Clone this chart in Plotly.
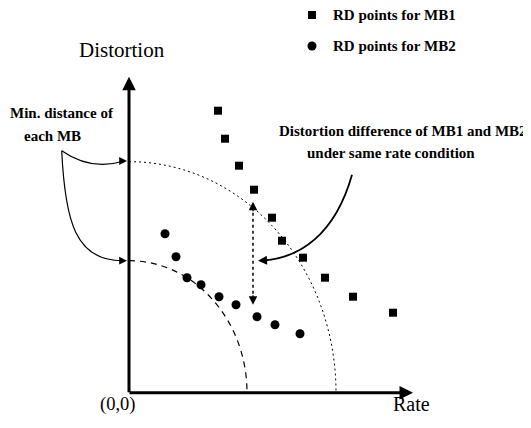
import plotly.graph_objects as go

# ---- data (rate / distortion units, origin at (0,0)) ----
mb1_rate = [8.9, 9.6, 11.0, 12.5, 14.3, 15.3, 17.4, 19.6, 22.4, 26.4]
mb1_dist = [28.2, 25.4, 22.7, 20.3, 17.5, 15.2, 13.5, 11.5, 9.6, 8.0]
mb2_rate = [3.6, 4.7, 5.8, 7.2, 9.0, 10.7, 12.8, 14.6, 17.1]
mb2_dist = [15.9, 13.6, 11.5, 10.8, 9.6, 8.8, 7.6, 6.8, 5.9]

series_names = ["RD points for MB1", "RD points for MB2"]

outer_rx, outer_ry = 20.7, 23.1   # min-distance contour of MB1
inner_rx, inner_ry = 11.8, 13.2   # min-distance contour of MB2
same_rate = 12.4                  # rate at which the distortion difference is shown

SERIF = "Liberation Serif"
K = 0.5523

def quarter_ellipse(rx, ry):
    return (f"M 0,{ry} C {K*rx},{ry} {rx},{K*ry} {rx},0")

fig = go.Figure()
fig.add_trace(go.Scatter(x=mb1_rate, y=mb1_dist, mode="markers", name=series_names[0],
                         showlegend=False,
                         marker=dict(symbol="square", size=8, color="black")))
fig.add_trace(go.Scatter(x=mb2_rate, y=mb2_dist, mode="markers", name=series_names[1],
                         showlegend=False,
                         marker=dict(symbol="circle", size=9, color="black")))

shapes = [
    dict(type="path", path=quarter_ellipse(outer_rx, outer_ry), xref="x", yref="y",
         line=dict(color="black", width=1, dash="2px,3px")),
    dict(type="path", path=quarter_ellipse(inner_rx, inner_ry), xref="x", yref="y",
         line=dict(color="black", width=1.2, dash="6px,5px")),
    # dotted vertical double arrow
    dict(type="line", x0=same_rate, x1=same_rate, y0=9.3, y1=18.7, xref="x", yref="y",
         line=dict(color="black", width=1.5, dash="dot")),
    # curved solid arrow to the difference
    dict(type="path", path="M 22.3,21.8 C 20.6,15.8 17.1,13.5 13.4,13.2", xref="x", yref="y",
         line=dict(color="black", width=1.8)),
    # curved arrows from "Min. distance" label
    dict(type="path", path="M -6.73,24.2 C -5.4,23.27 -3.4,22.27 -0.5,23.17", xref="x", yref="y",
         line=dict(color="black", width=1.2)),
    dict(type="path", path="M -6.73,24.2 C -6.4,17.27 -5.4,13.07 -0.5,13.2", xref="x", yref="y",
         line=dict(color="black", width=1.2)),
    # legend symbols
    dict(type="rect", x0=17.9, x1=18.7, y0=37.37, y1=38.17, xref="x", yref="y",
         line=dict(width=0), fillcolor="black"),
    dict(type="circle", x0=17.85, x1=18.75, y0=34.22, y1=35.12, xref="x", yref="y",
         line=dict(width=0), fillcolor="black"),
]

ann = []
def arrow(x, y, ax, ay, w, size=1.0):
    ann.append(dict(x=x, y=y, ax=ax, ay=ay, xref="x", yref="y", axref="x", ayref="y",
                    text="", showarrow=True, arrowhead=2, arrowsize=size,
                    arrowwidth=w, arrowcolor="black", standoff=0))

# axes with arrows
arrow(0, 31.6, 0, -0.1, 3, 0.9)
arrow(28.4, 0, -0.1, 0, 3, 0.9)
# double arrow heads
arrow(same_rate, 19.1, same_rate, 18.0, 1.3, 1.3)
arrow(same_rate, 8.8, same_rate, 9.9, 1.3, 1.3)
# head of curved solid arrow
arrow(12.9, 13.2, 14.0, 13.25, 1.8, 1.0)
# heads of min-distance arrows
arrow(-0.2, 23.17, -1.0, 23.17, 1.2, 1.3)
arrow(-0.2, 13.2, -1.0, 13.2, 1.2, 1.3)

def label(x, y, t, size, bold=False, anchor="center"):
    ann.append(dict(x=x, y=y, xref="x", yref="y", text=(f"<b>{t}</b>" if bold else t),
                    showarrow=False, font=dict(family=SERIF, size=size, color="black"),
                    xanchor=anchor, yanchor="middle"))

label(-0.7, 34.27, "Distortion", 21)
label(-1.2, -1.13, "(0,0)", 18.5)
label(28.2, -1.13, "Rate", 20)
label(-6.75, 27.95, "Min. distance of", 15, True)
label(-7.7, 25.65, "each MB", 15, True)
label(27.4, 26.15, "Distortion difference of MB1 and MB2", 15, True)
label(26.2, 23.97, "under same rate condition", 15, True)
# legend texts
label(20.2, 37.77, series_names[0], 15, True, "left")
label(20.2, 34.67, series_names[1], 15, True, "left")

fig.update_layout(
    width=523, height=420,
    margin=dict(l=0, r=0, t=0, b=0),
    paper_bgcolor="white", plot_bgcolor="white",
    xaxis=dict(range=[-12.1, 40.2], visible=False, fixedrange=True),
    yaxis=dict(range=[-3.53, 38.47], visible=False, fixedrange=True),
    shapes=shapes, annotations=ann,
    showlegend=False,
)

fig.write_html("out.html")
